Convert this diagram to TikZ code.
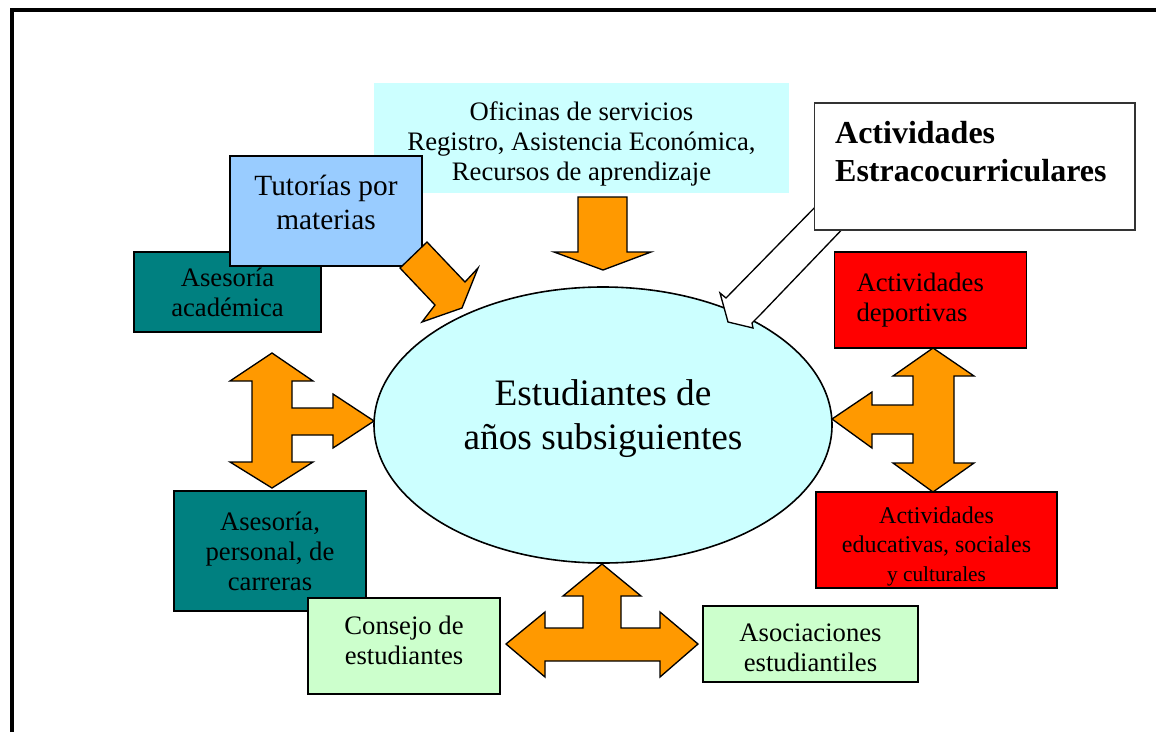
\documentclass[tikz,border=0pt]{standalone}
\usepackage{fontspec}
\setmainfont{Liberation Serif}
\usetikzlibrary{shapes.geometric}
\definecolor{paleblue}{HTML}{CCFFFF}
\definecolor{skyblue}{HTML}{99CCFF}
\definecolor{tealbox}{HTML}{008080}
\definecolor{redbox}{HTML}{FF0000}
\definecolor{greenbox}{HTML}{CCFFCC}
\definecolor{arroworange}{HTML}{FF9900}
\tikzset{
  textbox/.style={draw=black, line width=1.2pt, inner sep=0pt, align=center, font=\fontsize{20}{22.5}\selectfont},
  blockarrow/.style={draw=black, line width=1pt, fill=arroworange, line join=miter},
}
\begin{document}
\begin{tikzpicture}[x=0.75pt,y=-0.75pt]
\pgfmathsetlengthmacro\pix{0.75pt}
\useasboundingbox (0,0) rectangle (1156,732);
\draw[line width=3pt, line join=miter] (12,732) -- (12,10) -- (1156,10);
\node[textbox, draw=none, fill=paleblue, minimum width=415*\pix, minimum height=110*\pix, text height=67.5pt] (ofi) at (581.5,138) {Oficinas de servicios\\Registro, Asistencia Económica,\\Recursos de aprendizaje};
\node[textbox, fill=tealbox, minimum width=187*\pix, minimum height=80*\pix] (aca) at (227.5,292) {Asesoría\\académica};
\node[textbox, fill=skyblue, minimum width=192*\pix, minimum height=110*\pix, font=\fontsize{22}{25.5}\selectfont, text depth=13pt] (tut) at (326,211) {Tutorías por\\materias};
\node[ellipse, draw=black, line width=1.2pt, fill=paleblue, inner sep=0pt, minimum width=458*\pix, minimum height=276*\pix, align=center, font=\fontsize{28}{33}\selectfont, text depth=15pt] (stu) at (603,425) {Estudiantes de\\años subsiguientes};
\draw[blockarrow] (578,197) -- (627,197) -- (627,252) -- (651,252) -- (603,270) -- (554,252) -- (578,252) -- cycle;
\draw[blockarrow] (427,242) -- (465,282) -- (478,268) -- (462,308) -- (422,322) -- (435,305) -- (400,268) -- cycle;
\draw[blockarrow] (272,353) -- (313,381) -- (292,381) -- (292,408) -- (333,408) -- (333,394) -- (374,421) -- (333,448) -- (333,435) -- (292,435) -- (292,462) -- (313,462) -- (272,488) -- (230,462) -- (252,462) -- (252,381) -- (230,381) -- cycle;
\node[textbox, fill=tealbox, minimum width=192*\pix, minimum height=120*\pix] (per) at (270,551) {Asesoría,\\personal, de\\carreras};
\node[textbox, fill=greenbox, minimum width=192*\pix, minimum height=96*\pix, text depth=9pt] (con) at (404,646) {Consejo de\\estudiantes};
\draw[blockarrow] (602,564) -- (641,596) -- (621,596) -- (621,628) -- (660,628) -- (660,612) -- (698,644) -- (660,677) -- (660,661) -- (545,661) -- (545,677) -- (506,644) -- (545,612) -- (545,628) -- (583,628) -- (583,596) -- (563,596) -- cycle;
\node[textbox, fill=greenbox, minimum width=215*\pix, minimum height=76*\pix, text height=41.5pt] (aso) at (810.5,644) {Asociaciones\\estudiantiles};
\node[textbox, fill=redbox, align=left, text width=111pt, inner xsep=16.5pt, minimum height=96*\pix] (dep) at (930.5,300) {Actividades\\deportivas};
\node[textbox, fill=redbox, minimum width=241*\pix, minimum height=96*\pix, font=\fontsize{18}{21.75}\selectfont, text height=66pt] (edu) at (936.5,540) {Actividades\\educativas, sociales\\{\fontsize{16}{18}\selectfont y culturales}};
\draw[blockarrow] (933,348) -- (974,376) -- (954,376) -- (954,463) -- (974,463) -- (933,492) -- (893,463) -- (913,463) -- (913,434) -- (872,434) -- (872,448) -- (832,419) -- (872,392) -- (872,405) -- (913,405) -- (913,376) -- (893,376) -- cycle;
\draw[line width=1pt, fill=white, line join=miter] (823,199) -- (726,298) -- (720,293) -- (728,322) -- (753,328) -- (752,323) -- (760,315) -- (852,219) -- cycle;
\node[textbox, draw=black!80, line width=1pt, fill=white, align=left, text width=209pt, inner xsep=15.75pt, minimum height=127*\pix, font=\bfseries\fontsize{24}{28.5}\selectfont, text depth=51pt] (est) at (974.5,166.5) {Actividades\\Estracocurriculares};
\end{tikzpicture}
\end{document}
